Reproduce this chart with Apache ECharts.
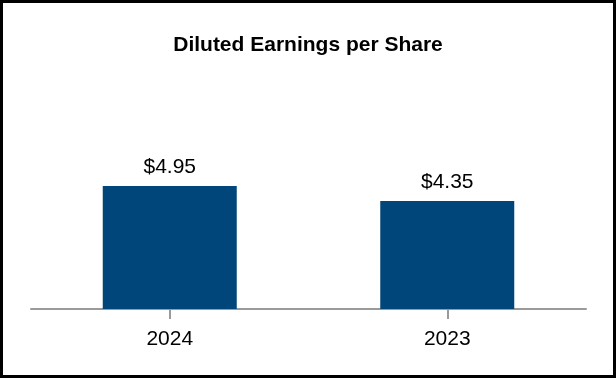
<!DOCTYPE html>
<html><head><meta charset="utf-8">
<script src="https://cdn.jsdelivr.net/npm/echarts@6/dist/echarts.min.js"></script>
<style>html,body{margin:0;padding:0;background:#fff}#c{width:616px;height:378px;box-sizing:border-box;border:3px solid #000}</style>
</head><body><div id="c"></div>
<script>
const categories = ['2024', '2023'];
const values = [4.95, 4.35];
const chart = echarts.init(document.getElementById('c'));
chart.setOption({
  animation: false,
  title: { text: 'Diluted Earnings per Share', left: 'center', top: 27,
    textStyle: { fontFamily: 'Liberation Sans, Arial', fontWeight: 'bold', fontSize: 21, color: '#000' } },
  grid: { left: 28, right: 27, top: 157, bottom: 66 },
  xAxis: { type: 'category', data: categories,
    axisLine: { lineStyle: { color: '#9a9a9a', width: 2 } },
    axisTick: { show: true, alignWithLabel: true, length: 10, lineStyle: { color: '#9a9a9a', width: 2 } },
    axisLabel: { fontFamily: 'Liberation Sans, Arial', fontSize: 21, color: '#000', margin: 20 } },
  yAxis: { type: 'value', min: 0, max: 6, show: false },
  series: [{ type: 'bar', data: values, barWidth: 134, itemStyle: { color: '#00467a' },
    label: { show: true, position: 'top', distance: 8, formatter: p => '$' + p.value.toFixed(2),
      fontFamily: 'Liberation Sans, Arial', fontSize: 21, color: '#000' } }]
});
</script></body></html>
